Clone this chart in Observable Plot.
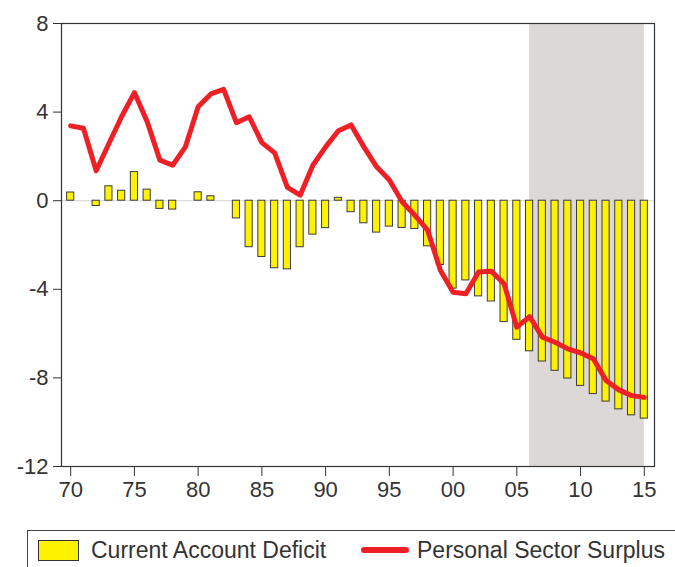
<!DOCTYPE html>
<html>
<head>
<meta charset="utf-8">
<script src="https://cdn.jsdelivr.net/npm/d3@7"></script>
<script src="https://cdn.jsdelivr.net/npm/@observablehq/plot@0.6"></script>
<style>
  html, body { margin: 0; padding: 0; background: #fff; width: 675px; height: 567px; overflow: hidden; }
  #wrap { position: relative; width: 675px; height: 567px; font-family: "Liberation Sans", Arial, sans-serif; color: #333; }
  #legend { position: absolute; left: 27px; top: 530px; width: 700px; height: 60px; border: 1px solid #444; box-sizing: border-box; }
  .sw-bar { position: absolute; left: 10px; top: 9px; width: 41px; height: 21px; background: #fff200; border: 1px solid #333; box-sizing: border-box; }
  .sw-line { position: absolute; left: 333px; top: 16px; width: 48px; height: 6px; background: #ee2026; border-radius: 3px; }
  .lt { position: absolute; top: 4px; font-size: 23px; line-height: 30px; white-space: nowrap; color: #333; }
</style>
</head>
<body>
<div id="wrap">
  <div id="chart"></div>
  <div id="legend">
    <div class="sw-bar"></div>
    <div class="lt" style="left:63px">Current Account Deficit</div>
    <div class="sw-line"></div>
    <div class="lt" style="left:389px">Personal Sector Surplus</div>
  </div>
</div>
<script>
const years = d3.range(1970, 2016);
const currentAccountDeficit = [
  0.37, 0, -0.24, 0.65, 0.45, 1.29, 0.5, -0.37, -0.4, 0,
  0.38, 0.2, 0, -0.8, -2.1, -2.54, -3.05, -3.1, -2.1, -1.53,
  -1.24, 0.13, -0.52, -1.02, -1.44, -1.17, -1.23, -1.28, -2.06, -2.9,
  -3.97, -3.6, -4.32, -4.55, -5.48, -6.28, -6.8, -7.26, -7.68, -8.03,
  -8.36, -8.73, -9.07, -9.42, -9.69, -9.84
];
const personalSectorSurplus = [
  3.38, 3.27, 1.35, 2.58, 3.8, 4.88, 3.57, 1.83, 1.6, 2.43,
  4.24, 4.82, 5.03, 3.52, 3.79, 2.62, 2.16, 0.6, 0.25, 1.6,
  2.43, 3.16, 3.42, 2.43, 1.53, 0.93, -0.05, -0.66, -1.33, -3.14,
  -4.13, -4.2, -3.22, -3.18, -3.75, -5.71, -5.23, -6.16, -6.39, -6.69,
  -6.87, -7.14, -8.12, -8.54, -8.8, -8.88
];
const xTicks = [1970, 1975, 1980, 1985, 1990, 1995, 2000, 2005, 2010, 2015];
const yTicks = [-12, -8, -4, 0, 4, 8];
const shadedPeriod = [{start: 2006, end: 2015}];

const data = years.map((y, i) => ({year: y, cad: currentAccountDeficit[i], pss: personalSectorSurplus[i]}));
const halfBar = 0.28;

const chart = Plot.plot({
  width: 675,
  height: 505,
  marginTop: 23,
  marginBottom: 39,
  marginLeft: 61,
  marginRight: 21,
  style: {fontFamily: "Liberation Sans, Arial, sans-serif", fontSize: "22px", color: "#333", background: "#fff"},
  x: {domain: [1969.28, 2015.8]},
  y: {domain: [-12, 8]},
  marks: [
    Plot.rect(shadedPeriod, {x1: "start", x2: "end", y1: -12, y2: 8, fill: "#dcd8d5"}),
    Plot.ruleY([0], {stroke: "#d4d4d4", strokeWidth: 1}),
    Plot.rectY(data, {x1: d => d.year - halfBar, x2: d => d.year + halfBar, y1: 0, y2: "cad", fill: "#fff200", stroke: "#3a3a3a", strokeWidth: 1}),
    Plot.line(data, {x: "year", y: "pss", stroke: "#ee2026", strokeWidth: 5, strokeLinejoin: "round", strokeLinecap: "round"}),
    Plot.frame({stroke: "#333", strokeWidth: 1.2}),
    Plot.axisX({ticks: xTicks, tickFormat: d => String(d % 100).padStart(2, "0"), tickSize: 10, tickPadding: 5, label: null, fontSize: 22, stroke: "#333"}),
    Plot.axisY({ticks: yTicks, tickFormat: d => String(d), tickSize: 8, tickPadding: 5, label: null, fontSize: 22, stroke: "#333"})
  ]
});
document.getElementById("chart").appendChild(chart);
</script>
</body>
</html>
